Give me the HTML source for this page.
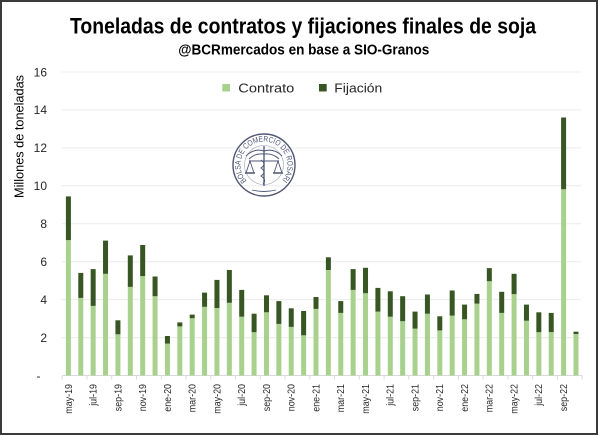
<!DOCTYPE html>
<html><head><meta charset="utf-8"><style>
html,body{margin:0;padding:0;background:#fff;}
svg{display:block;}
text{font-family:"Liberation Sans",sans-serif;}
</style></head><body>
<svg width="600" height="435" viewBox="0 0 600 435" xmlns="http://www.w3.org/2000/svg">
<rect x="0" y="0" width="600" height="435" fill="#fff"/>
<!-- gridlines -->
<g stroke="#ececec" stroke-width="1">
<line x1="61.7" y1="72" x2="581" y2="72"/>
<line x1="61.7" y1="109.9" x2="581" y2="109.9"/>
<line x1="61.7" y1="147.9" x2="581" y2="147.9"/>
<line x1="61.7" y1="185.8" x2="581" y2="185.8"/>
<line x1="61.7" y1="223.7" x2="581" y2="223.7"/>
<line x1="61.7" y1="261.7" x2="581" y2="261.7"/>
<line x1="61.7" y1="299.6" x2="581" y2="299.6"/>
<line x1="61.7" y1="337.6" x2="581" y2="337.6"/>
</g>
<!-- logo -->
<g fill="none" stroke="#4f5675">
<circle cx="264" cy="165" r="31" stroke-width="1.4"/>
<circle cx="264" cy="165" r="19.5" stroke-width="0.6" stroke="#9aa0b5"/>
<path id="arc" d="M 246.7 180.9 A 23.5 23.5 0 1 1 281.3 180.9" stroke="none"/>
<line x1="264" y1="146" x2="264" y2="186" stroke-width="1.3"/>
<path d="M264 151 Q254 148 246 156 M264 151 Q274 148 282 156 M264 154 Q255 153 249 159 M264 154 Q273 153 279 159" stroke-width="1"/>
<path d="M261 160 Q267 164 261 168 Q267 172 261 176 Q267 180 263 184" stroke-width="1"/>
<line x1="249" y1="161" x2="279" y2="161" stroke-width="1.1"/>
<path d="M250 161 L246 173 L254 173 Z M278 161 L274 173 L282 173 Z" stroke-width="0.9"/>
<path d="M245 173 L255 173 M273 173 L283 173" stroke-width="1.5"/>
<path d="M252 190 Q264 193 276 190" stroke-width="0.9"/>
</g>
<text font-size="8" fill="#4f5675"><textPath href="#arc" textLength="112" lengthAdjust="spacingAndGlyphs">BOLSA DE COMERCIO DE ROSARIO</textPath></text>
<!-- axis -->
<line x1="62.2" y1="375.5" x2="582.2" y2="375.5" stroke="#d9d9d9" stroke-width="1"/>
<g stroke="#d9d9d9" stroke-width="1">
<line x1="62.2" y1="375.5" x2="62.2" y2="379.5"/>
<line x1="86.96" y1="375.5" x2="86.96" y2="379.5"/>
<line x1="111.72" y1="375.5" x2="111.72" y2="379.5"/>
<line x1="136.48" y1="375.5" x2="136.48" y2="379.5"/>
<line x1="161.24" y1="375.5" x2="161.24" y2="379.5"/>
<line x1="186" y1="375.5" x2="186" y2="379.5"/>
<line x1="210.76" y1="375.5" x2="210.76" y2="379.5"/>
<line x1="235.52" y1="375.5" x2="235.52" y2="379.5"/>
<line x1="260.28" y1="375.5" x2="260.28" y2="379.5"/>
<line x1="285.04" y1="375.5" x2="285.04" y2="379.5"/>
<line x1="309.8" y1="375.5" x2="309.8" y2="379.5"/>
<line x1="334.56" y1="375.5" x2="334.56" y2="379.5"/>
<line x1="359.32" y1="375.5" x2="359.32" y2="379.5"/>
<line x1="384.08" y1="375.5" x2="384.08" y2="379.5"/>
<line x1="408.84" y1="375.5" x2="408.84" y2="379.5"/>
<line x1="433.6" y1="375.5" x2="433.6" y2="379.5"/>
<line x1="458.36" y1="375.5" x2="458.36" y2="379.5"/>
<line x1="483.12" y1="375.5" x2="483.12" y2="379.5"/>
<line x1="507.88" y1="375.5" x2="507.88" y2="379.5"/>
<line x1="532.64" y1="375.5" x2="532.64" y2="379.5"/>
<line x1="557.4" y1="375.5" x2="557.4" y2="379.5"/>
<line x1="582.16" y1="375.5" x2="582.16" y2="379.5"/>
</g>
<!-- contrato bars -->
<g fill="#a9d18e">
<rect x="65.9" y="240.1" width="5" height="135.4"/>
<rect x="78.28" y="297.9" width="5" height="77.6"/>
<rect x="90.66" y="305.9" width="5" height="69.6"/>
<rect x="103.04" y="273.8" width="5" height="101.7"/>
<rect x="115.42" y="334.3" width="5" height="41.2"/>
<rect x="127.8" y="286.9" width="5" height="88.6"/>
<rect x="140.18" y="276.1" width="5" height="99.4"/>
<rect x="152.56" y="296.2" width="5" height="79.3"/>
<rect x="164.94" y="343.6" width="5" height="31.9"/>
<rect x="177.32" y="326.4" width="5" height="49.1"/>
<rect x="189.7" y="318.2" width="5" height="57.3"/>
<rect x="202.08" y="306.8" width="5" height="68.7"/>
<rect x="214.46" y="308.0" width="5" height="67.5"/>
<rect x="226.84" y="302.8" width="5" height="72.7"/>
<rect x="239.22" y="316.7" width="5" height="58.8"/>
<rect x="251.6" y="332.2" width="5" height="43.3"/>
<rect x="263.98" y="312.3" width="5" height="63.2"/>
<rect x="276.36" y="323.9" width="5" height="51.6"/>
<rect x="288.74" y="326.9" width="5" height="48.6"/>
<rect x="301.12" y="335.3" width="5" height="40.2"/>
<rect x="313.5" y="308.9" width="5" height="66.6"/>
<rect x="325.88" y="270.0" width="5" height="105.5"/>
<rect x="338.26" y="312.9" width="5" height="62.6"/>
<rect x="350.64" y="289.9" width="5" height="85.6"/>
<rect x="363.02" y="293.2" width="5" height="82.3"/>
<rect x="375.4" y="311.6" width="5" height="63.9"/>
<rect x="387.78" y="316.7" width="5" height="58.8"/>
<rect x="400.16" y="321.2" width="5" height="54.3"/>
<rect x="412.54" y="328.6" width="5" height="46.9"/>
<rect x="424.92" y="313.7" width="5" height="61.8"/>
<rect x="437.3" y="330.4" width="5" height="45.1"/>
<rect x="449.68" y="315.6" width="5" height="59.9"/>
<rect x="462.06" y="319.3" width="5" height="56.2"/>
<rect x="474.44" y="303.6" width="5" height="71.9"/>
<rect x="486.82" y="281.2" width="5" height="94.3"/>
<rect x="499.2" y="312.9" width="5" height="62.6"/>
<rect x="511.58" y="294.1" width="5" height="81.4"/>
<rect x="523.96" y="320.7" width="5" height="54.8"/>
<rect x="536.34" y="332.2" width="5" height="43.3"/>
<rect x="548.72" y="332.1" width="5" height="43.4"/>
<rect x="561.1" y="189.2" width="5" height="186.3"/>
<rect x="573.48" y="334.0" width="5" height="41.5"/>
</g>
<!-- fijacion bars -->
<g fill="#375623">
<rect x="65.9" y="196.4" width="5" height="43.7"/>
<rect x="78.28" y="272.9" width="5" height="25.0"/>
<rect x="90.66" y="269.1" width="5" height="36.8"/>
<rect x="103.04" y="240.6" width="5" height="33.2"/>
<rect x="115.42" y="320.3" width="5" height="14.0"/>
<rect x="127.8" y="255.4" width="5" height="31.5"/>
<rect x="140.18" y="245.0" width="5" height="31.1"/>
<rect x="152.56" y="276.5" width="5" height="19.7"/>
<rect x="164.94" y="336.0" width="5" height="7.6"/>
<rect x="177.32" y="322.4" width="5" height="4.0"/>
<rect x="189.7" y="314.6" width="5" height="3.6"/>
<rect x="202.08" y="292.6" width="5" height="14.2"/>
<rect x="214.46" y="279.9" width="5" height="28.1"/>
<rect x="226.84" y="270.0" width="5" height="32.8"/>
<rect x="239.22" y="289.9" width="5" height="26.8"/>
<rect x="251.6" y="313.7" width="5" height="18.5"/>
<rect x="263.98" y="295.3" width="5" height="17.0"/>
<rect x="276.36" y="301.1" width="5" height="22.8"/>
<rect x="288.74" y="308.3" width="5" height="18.6"/>
<rect x="301.12" y="311.0" width="5" height="24.3"/>
<rect x="313.5" y="297.0" width="5" height="11.9"/>
<rect x="325.88" y="257.3" width="5" height="12.7"/>
<rect x="338.26" y="301.1" width="5" height="11.8"/>
<rect x="350.64" y="269.1" width="5" height="20.8"/>
<rect x="363.02" y="267.8" width="5" height="25.4"/>
<rect x="375.4" y="287.9" width="5" height="23.7"/>
<rect x="387.78" y="291.3" width="5" height="25.4"/>
<rect x="400.16" y="296.2" width="5" height="25.0"/>
<rect x="412.54" y="311.6" width="5" height="17.0"/>
<rect x="424.92" y="294.5" width="5" height="19.2"/>
<rect x="437.3" y="316.3" width="5" height="14.1"/>
<rect x="449.68" y="290.5" width="5" height="25.1"/>
<rect x="462.06" y="304.6" width="5" height="14.7"/>
<rect x="474.44" y="293.9" width="5" height="9.7"/>
<rect x="486.82" y="268.1" width="5" height="13.1"/>
<rect x="499.2" y="291.8" width="5" height="21.1"/>
<rect x="511.58" y="273.8" width="5" height="20.3"/>
<rect x="523.96" y="304.6" width="5" height="16.1"/>
<rect x="536.34" y="312.3" width="5" height="19.9"/>
<rect x="548.72" y="312.9" width="5" height="19.2"/>
<rect x="561.1" y="117.5" width="5" height="71.7"/>
<rect x="573.48" y="331.7" width="5" height="2.3"/>
</g>
<!-- y tick labels -->
<g font-size="12" fill="#262626" text-anchor="end">
<text x="47" y="76.3">16</text>
<text x="47" y="114.2">14</text>
<text x="47" y="152.2">12</text>
<text x="47" y="190.1">10</text>
<text x="47" y="228">8</text>
<text x="47" y="266">6</text>
<text x="47" y="303.9">4</text>
<text x="47" y="341.9">2</text>
<text x="40.5" y="379.8">-</text>
</g>
<!-- y axis title -->
<text transform="translate(23.5,136.5) rotate(-90)" text-anchor="middle" font-size="13" fill="#000" textLength="123" lengthAdjust="spacingAndGlyphs">Millones de toneladas</text>
<!-- x labels -->
<g font-size="10.5" fill="#262626" text-anchor="end">
<text transform="translate(71.8,384) rotate(-90) scale(0.85,1)">may-19</text>
<text transform="translate(96.56,384) rotate(-90) scale(0.85,1)">jul-19</text>
<text transform="translate(121.32,384) rotate(-90) scale(0.85,1)">sep-19</text>
<text transform="translate(146.08,384) rotate(-90) scale(0.85,1)">nov-19</text>
<text transform="translate(170.84,384) rotate(-90) scale(0.85,1)">ene-20</text>
<text transform="translate(195.6,384) rotate(-90) scale(0.85,1)">mar-20</text>
<text transform="translate(220.36,384) rotate(-90) scale(0.85,1)">may-20</text>
<text transform="translate(245.12,384) rotate(-90) scale(0.85,1)">jul-20</text>
<text transform="translate(269.88,384) rotate(-90) scale(0.85,1)">sep-20</text>
<text transform="translate(294.64,384) rotate(-90) scale(0.85,1)">nov-20</text>
<text transform="translate(319.4,384) rotate(-90) scale(0.85,1)">ene-21</text>
<text transform="translate(344.16,384) rotate(-90) scale(0.85,1)">mar-21</text>
<text transform="translate(368.92,384) rotate(-90) scale(0.85,1)">may-21</text>
<text transform="translate(393.68,384) rotate(-90) scale(0.85,1)">jul-21</text>
<text transform="translate(418.44,384) rotate(-90) scale(0.85,1)">sep-21</text>
<text transform="translate(443.2,384) rotate(-90) scale(0.85,1)">nov-21</text>
<text transform="translate(467.96,384) rotate(-90) scale(0.85,1)">ene-22</text>
<text transform="translate(492.72,384) rotate(-90) scale(0.85,1)">mar-22</text>
<text transform="translate(517.48,384) rotate(-90) scale(0.85,1)">may-22</text>
<text transform="translate(542.24,384) rotate(-90) scale(0.85,1)">jul-22</text>
<text transform="translate(567,384) rotate(-90) scale(0.85,1)">sep-22</text>
</g>
<!-- title -->
<text x="70" y="33.5" font-size="22" font-weight="bold" fill="#000" textLength="466" lengthAdjust="spacingAndGlyphs">Toneladas de contratos y fijaciones finales de soja</text>
<text x="178.3" y="54.3" font-size="14.5" font-weight="bold" fill="#000" textLength="251" lengthAdjust="spacingAndGlyphs">@BCRmercados en base a SIO-Granos</text>
<!-- legend -->
<rect x="222.3" y="84" width="7.7" height="7.5" fill="#a9d18e"/>
<text x="238.3" y="92.5" font-size="13" fill="#262626" textLength="56" lengthAdjust="spacingAndGlyphs">Contrato</text>
<rect x="319" y="84" width="7.7" height="7.5" fill="#375623"/>
<text x="334.3" y="92.5" font-size="13" fill="#262626" textLength="48" lengthAdjust="spacingAndGlyphs">Fijación</text>
<!-- frame -->
<rect x="1" y="1" width="596" height="433" fill="none" stroke="#3a3a3a" stroke-width="2"/>
</svg>
</body></html>
